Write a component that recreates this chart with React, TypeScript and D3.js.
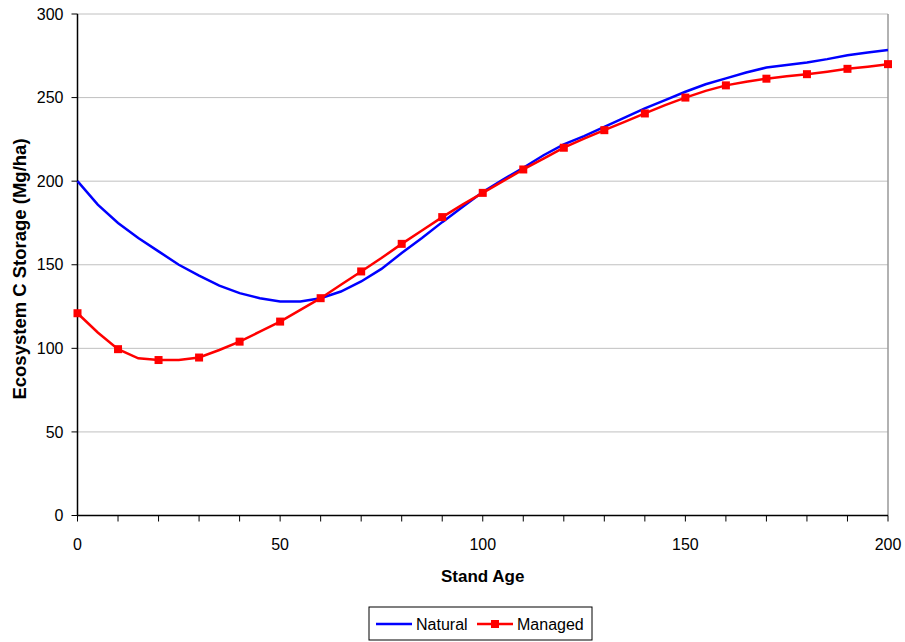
import React from "react";
import * as d3 from "d3";

const ages = [0,5,10,15,20,25,30,35,40,45,50,55,60,65,70,75,80,85,90,95,100,105,110,115,120,125,130,135,140,145,150,155,160,165,170,175,180,185,190,195,200];
const natural = [200,186,175,166,158,150,143.5,137.5,133,130,128,128,130,134,140,147.5,157,166,175.5,184.5,193.5,201,208,215.5,222,227,232.5,238,243.5,248.5,253.5,258,261.5,265,268,269.5,271,273,275.3,277,278.5];
const managed = [121,109.5,99.5,94,93,93,94.5,99,104,110,116,123,130,138,146,154,162.5,170.5,178.5,186,193,200,207,213.5,220,225.5,230.5,235.5,240.5,245.5,250,254,257.3,259.5,261.3,262.7,264,265.5,267.2,268.5,270];
const yTicks = [0,50,100,150,200,250,300];
const xLabelTicks = [0,50,100,150,200];
const xMinorTicks = d3.range(0, 201, 10);

const W = 905, H = 642;
const left = 77.5, right = 888, top = 14, bottom = 515.5;

export default function App() {
  const x = d3.scaleLinear().domain([0, 200]).range([left, right]);
  const y = d3.scaleLinear().domain([0, 300]).range([bottom, top]);
  const line = d3.line<number>().x((_, i) => x(ages[i])).y(d => y(d));
  const font = "'Liberation Sans', Arial, sans-serif";
  const markerIdx = ages.map((a, i) => (a % 10 === 0 ? i : -1)).filter(i => i >= 0);
  return (
    <svg width={W} height={H} style={{ position: "absolute", left: 0, top: 0, background: "#fff" }} fontFamily={font}>
      <rect x={0} y={0} width={W} height={H} fill="#fff" />
      {yTicks.filter(t => t > 0).map(t => (
        <line key={t} x1={left} x2={right} y1={y(t)} y2={y(t)} stroke="#808080" strokeWidth={1} strokeDasharray="1,1" />
      ))}
      <line x1={right} x2={right} y1={top} y2={bottom} stroke="#999" strokeWidth={1.5} />
      <line x1={left} x2={left} y1={top} y2={bottom} stroke="#000" strokeWidth={1.5} />
      <line x1={left} x2={right} y1={bottom} y2={bottom} stroke="#000" strokeWidth={1.5} />
      {yTicks.map(t => (
        <g key={t}>
          <line x1={left - 6} x2={left} y1={y(t)} y2={y(t)} stroke="#000" strokeWidth={1} />
          <text x={left - 14} y={y(t)} dy="0.35em" textAnchor="end" fontSize={16}>{t}</text>
        </g>
      ))}
      {xMinorTicks.map(t => (
        <line key={t} x1={x(t)} x2={x(t)} y1={bottom} y2={bottom + 6} stroke="#000" strokeWidth={1} />
      ))}
      {xLabelTicks.map(t => (
        <text key={t} x={x(t)} y={bottom + 34} textAnchor="middle" fontSize={16}>{t}</text>
      ))}
      <path d={line(natural) || ""} fill="none" stroke="#0000ff" strokeWidth={2.5} />
      <path d={line(managed) || ""} fill="none" stroke="#ff0000" strokeWidth={2.5} />
      {markerIdx.map(i => (
        <rect key={i} x={x(ages[i]) - 4} y={y(managed[i]) - 4} width={8} height={8} fill="#ff0000" />
      ))}
      <text x={(left + right) / 2} y={582} textAnchor="middle" fontSize={17} fontWeight="bold">Stand Age</text>
      <text transform={`translate(26,269) rotate(-90)`} textAnchor="middle" fontSize={18.5} fontWeight="bold">Ecosystem C Storage (Mg/ha)</text>
      <rect x={369} y={607} width={223} height={33} fill="#fff" stroke="#000" strokeWidth={1} />
      <line x1={376} x2={412} y1={624} y2={624} stroke="#0000ff" strokeWidth={2.5} />
      <text x={416} y={624} dy="0.35em" fontSize={16}>Natural</text>
      <line x1={477} x2={513} y1={624} y2={624} stroke="#ff0000" strokeWidth={2.5} />
      <rect x={491} y={620} width={8} height={8} fill="#ff0000" />
      <text x={517} y={624} dy="0.35em" fontSize={16}>Managed</text>
    </svg>
  );
}
